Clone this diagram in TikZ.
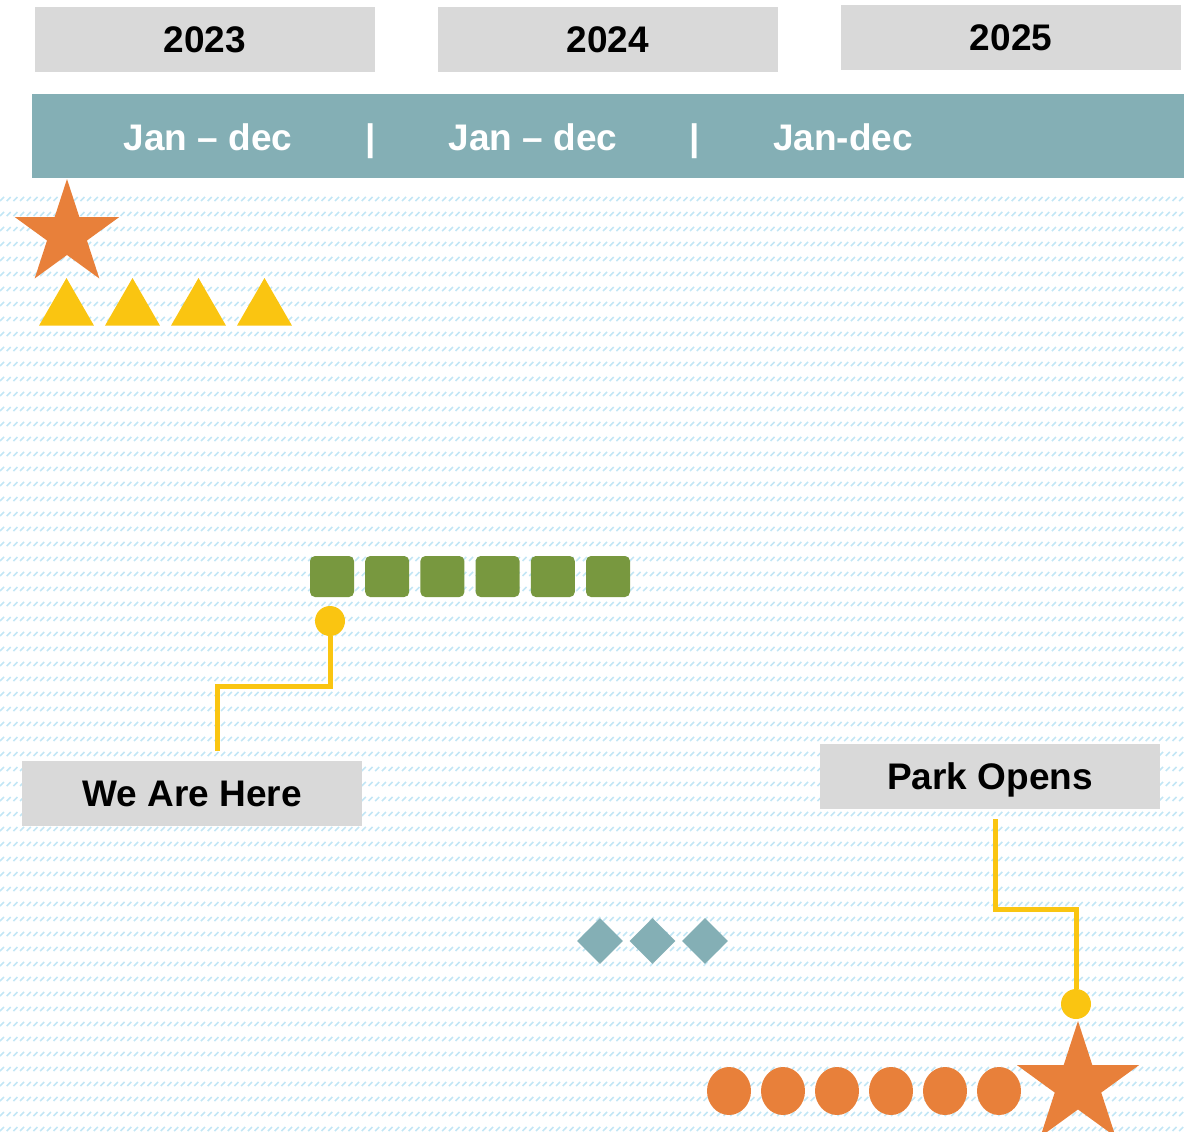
\documentclass[tikz,border=0pt]{standalone}
\usepackage{fontspec}
\setmainfont{Liberation Sans}
\usetikzlibrary{shapes.geometric,patterns}

\definecolor{boxgray}{HTML}{D9D9D9}
\definecolor{bandteal}{HTML}{84AFB5}
\definecolor{markorange}{HTML}{E8803A}
\definecolor{markyellow}{HTML}{FAC511}
\definecolor{markgreen}{HTML}{78983F}
\definecolor{hatchblue}{HTML}{C2E6F5}

\pgfdeclarepatternformonly{hatchrows}{\pgfqpoint{-0.5pt}{-0.5pt}}{\pgfqpoint{2.5pt}{2.5pt}}{\pgfqpoint{3.35pt}{7.5pt}}{
	\pgfsetlinewidth{0.8pt}
	\pgfpathmoveto{\pgfqpoint{0pt}{0pt}}
	\pgfpathlineto{\pgfqpoint{2pt}{2pt}}
	\pgfusepath{stroke}
}

\tikzset{
	labeltext/.style={font=\bfseries\fontsize{18.5}{22}\selectfont, text height=13.3pt, text depth=0pt},
	yearbox/.style={labeltext, fill=boxgray, minimum width=170pt, minimum height=32.5pt, inner sep=0pt},
	band/.style={fill=bandteal, minimum width=576pt, minimum height=42pt, inner sep=0pt},
	monthtext/.style={labeltext, text=white, inner sep=0pt},
	starmark/.style={star, star points=5, star point ratio=2.618, fill=markorange, inner sep=0pt},
	trimark/.style={regular polygon, regular polygon sides=3, fill=markyellow, minimum size=31.75pt, inner sep=0pt},
	greenmark/.style={rectangle, rounded corners=2.5pt, fill=markgreen, minimum width=22pt, minimum height=20.5pt, inner sep=0pt},
	diamark/.style={diamond, aspect=1, fill=bandteal, minimum width=23pt, minimum height=23pt, inner sep=0pt},
	roundmark/.style={ellipse, fill=markorange, minimum width=22pt, minimum height=24pt, inner sep=0pt},
	dot/.style={circle, fill=markyellow, minimum size=15pt, inner sep=0pt},
	link/.style={draw=markyellow, line width=2.5pt},
}

\begin{document}
\begin{tikzpicture}[x=0.5pt, y=-0.5pt]

	\useasboundingbox (0,0) rectangle (1194,1131);
	\fill[pattern=hatchrows, pattern color=hatchblue] (0,195) rectangle (1184,1131);

	% years and months
	\node[yearbox] (y2023) at (205,39.5) {2023};
	\node[yearbox] (y2024) at (608,39.5) {2024};
	\node[yearbox] (y2025) at (1011,37.5) {2025};

	\node[band] (band) at (608,136) {};
	\node[monthtext] (m2023) at (208,137) {Jan -- dec};
	\node[monthtext] (sep1) at (371,137) {|};
	\node[monthtext] (m2024) at (533,137) {Jan -- dec};
	\node[monthtext] (sep2) at (695,137) {|};
	\node[monthtext] (m2025) at (843,137) {Jan-dec};

	% marks
	\node[starmark, minimum size=55pt] (startA) at (67,234) {};
	\foreach \i in {0,...,3}
		\node[trimark] (tri\i) at (66.5+66*\i,309.75) {};

	\foreach \i in {0,...,5}
		\node[greenmark] (sq\i) at (332+55.2*\i,576.5) {};

	\foreach \i in {0,...,2}
		\node[diamark] (dia\i) at (600+52.5*\i,941) {};

	\foreach \i in {0,...,5}
		\node[roundmark] (rd\i) at (729+54*\i,1091) {};
	\node[starmark, minimum size=64pt] (startB) at (1078,1085) {};

	% callouts
	\node[yearbox] (here) at (192,793) {We Are Here};
	\node[dot] (dotA) at (330,621) {};
	\draw[link, shorten >=4.5pt] (dotA.south) -- ++(0,50) -| ([xshift=12.5pt]here.north);

	\node[yearbox] (opens) at (990,776) {Park Opens};
	\node[dot] (dotB) at (1076,1004) {};
	\draw[link, shorten >=5pt] (dotB.north) -- ++(0,-79) -| ([xshift=2.5pt]opens.south);

\end{tikzpicture}
\end{document}
